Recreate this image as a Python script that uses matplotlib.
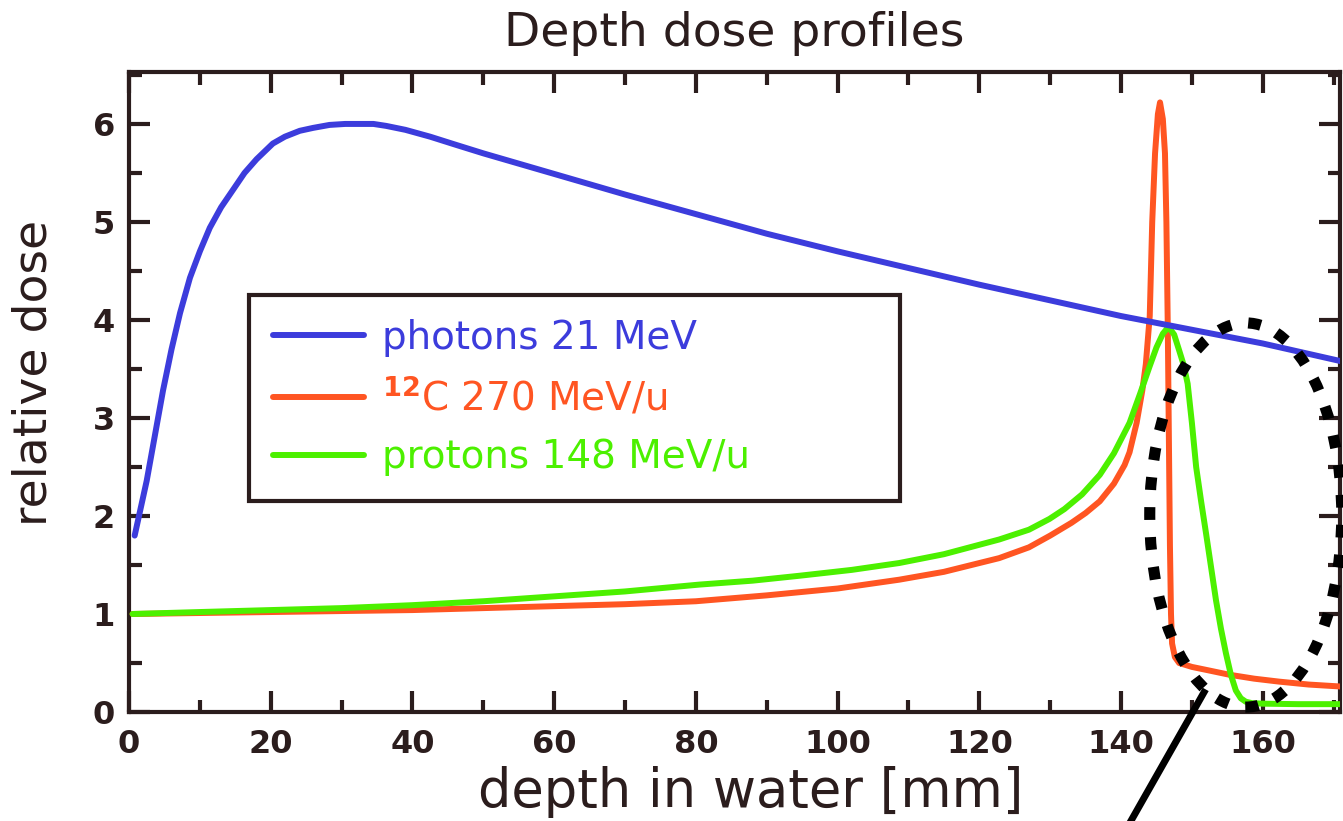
import matplotlib
matplotlib.use("Agg")
import matplotlib.pyplot as plt
from matplotlib.patches import Ellipse
from matplotlib.ticker import MultipleLocator

# ---------------- data ----------------
photon_x = [0.8, 2.5, 3.7, 4.8, 6.0, 7.2, 8.6, 10.0, 11.4, 13.0, 14.7, 16.3, 18.0,
            20.3, 22.0, 24.1, 26.0, 28.3, 30.5, 32.6, 34.5, 36.3, 39.0, 42.5, 46.0,
            50.0, 60.0, 70.0, 80.0, 90.0, 100.0, 110.0, 120.0, 130.0, 140.0, 150.0,
            160.0, 171.0]
photon_y = [1.80, 2.36, 2.84, 3.28, 3.70, 4.07, 4.43, 4.70, 4.94, 5.15, 5.33, 5.50, 5.64,
            5.80, 5.87, 5.93, 5.96, 5.99, 6.00, 6.00, 6.00, 5.98, 5.94, 5.87, 5.79,
            5.70, 5.49, 5.28, 5.08, 4.88, 4.70, 4.53, 4.36, 4.20, 4.04, 3.90,
            3.76, 3.58]

carbon_x = [0.5, 10, 20, 30, 40, 50, 60, 70, 80, 90, 100, 108.7, 115, 122.8, 127,
            130, 133, 135, 137, 139, 140.5, 141.2, 142.2, 143.0, 143.5, 144.05, 144.4,
            144.8, 145.2, 145.5, 145.9, 146.2, 146.4, 146.6, 146.75, 146.9, 147.05,
            147.2, 147.6, 148.2, 150, 152, 155.3, 158.8, 162.3, 166.5, 171]
carbon_y = [1.00, 1.01, 1.02, 1.03, 1.04, 1.06, 1.08, 1.10, 1.13, 1.19, 1.26, 1.35, 1.43,
            1.57, 1.68, 1.80, 1.93, 2.03, 2.15, 2.33, 2.52, 2.65, 2.95, 3.28, 3.55, 4.04,
            5.00, 5.70, 6.10, 6.22, 6.05, 5.70, 5.00, 3.90, 2.80, 1.70, 1.00, 0.70, 0.56,
            0.50, 0.46, 0.43, 0.38, 0.34, 0.31, 0.28, 0.26]

proton_x = [0.5, 10, 20, 30, 40, 50, 60, 70, 80.5, 88, 94.6, 102, 108.7, 115, 122.8,
            127, 129.9, 132, 134.5, 137, 139, 141.2, 142.7, 144, 145, 145.9, 146.7,
            147.5, 148.2, 148.8, 149.4, 150, 150.6, 151.3, 152, 152.7, 153.4, 154.1,
            154.8, 155.5, 156.2, 156.9, 157.6, 158.5, 160, 165, 171]
proton_y = [1.00, 1.02, 1.04, 1.06, 1.09, 1.13, 1.18, 1.23, 1.30, 1.34, 1.39, 1.45, 1.52,
            1.61, 1.76, 1.86, 1.97, 2.07, 2.22, 2.42, 2.64, 2.95, 3.25, 3.52, 3.72, 3.86,
            3.93, 3.85, 3.69, 3.55, 3.35, 2.95, 2.50, 2.15, 1.82, 1.48, 1.14, 0.85, 0.60,
            0.38, 0.22, 0.14, 0.105, 0.09, 0.085, 0.08, 0.08]

series_labels = ["photons 21 MeV", r"$^{\mathbf{12}}$C 270 MeV/u", "protons 148 MeV/u"]

x_ticks = [0, 20, 40, 60, 80, 100, 120, 140, 160]
x_tick_labels = ["0", "20", "40", "60", "80", "100", "120", "140", "160"]
y_ticks = [0, 1, 2, 3, 4, 5, 6]
y_tick_labels = ["0", "1", "2", "3", "4", "5", "6"]

title_text = "Depth dose profiles"
x_label = "depth in water [mm]"
y_label = "relative dose"

# annotation (dotted ellipse and pointer line) in data units
ellipse_center = (157.6, 2.01)
ellipse_size = (27.1, 3.92)
pointer_x = [151.7, 140.7]
pointer_y = [0.20, -1.20]

# ---------------- style ----------------
BLUE = "#3c3cdc"
ORANGE = "#ff5522"
GREEN = "#4cf000"
DARK = "#2b1d1d"

plt.rcParams['font.family'] = ['DejaVu Sans']

fig = plt.figure(figsize=(13.43, 8.21), dpi=100)
fig.patch.set_facecolor("white")
ax = fig.add_axes([129 / 1343, 109 / 821, 1211 / 1343, 640 / 821])

lw = 4.3
ax.plot(carbon_x, carbon_y, color=ORANGE, lw=lw, solid_joinstyle='round',
        solid_capstyle='round', label=series_labels[1], zorder=3)
ax.plot(proton_x, proton_y, color=GREEN, lw=lw, solid_joinstyle='round',
        solid_capstyle='round', label=series_labels[2], zorder=4)
ax.plot(photon_x, photon_y, color=BLUE, lw=lw, solid_joinstyle='round',
        solid_capstyle='round', label=series_labels[0], zorder=5)

ax.set_xlim(0, 170.9)
ax.set_ylim(0, 6.53)

ax.set_xticks(x_ticks, labels=x_tick_labels, fontsize=23, fontweight='bold', color=DARK)
ax.set_yticks(y_ticks, labels=y_tick_labels, fontsize=23, fontweight='bold', color=DARK)
ax.xaxis.set_minor_locator(MultipleLocator(10))
ax.yaxis.set_minor_locator(MultipleLocator(0.5))
ax.tick_params(which='both', direction='in', top=True, right=True, width=3, color=DARK)
ax.tick_params(which='major', length=15)
ax.tick_params(which='minor', length=9)
ax.tick_params(axis='x', pad=12)
ax.tick_params(axis='y', pad=10)

for sp in ax.spines.values():
    sp.set_linewidth(3)
    sp.set_color(DARK)

ax.set_title(title_text, fontsize=34, color=DARK, pad=19)

ax.set_xlabel(x_label, fontsize=38, color=DARK)
ax.xaxis.set_label_coords(0.513, -0.148)
ax.xaxis.label.set_verticalalignment('baseline')

ax.set_ylabel(y_label, fontsize=34, color=DARK)
ax.yaxis.set_label_coords(-0.0784, 0.530)
ax.yaxis.label.set_verticalalignment('center')

# legend
handles, labels = ax.get_legend_handles_labels()
order = [2, 0, 1]
leg = ax.legend([handles[i] for i in order], [labels[i] for i in order],
                loc='upper left', bbox_to_anchor=(0.099, 0.652, 0.538, 0.0),
                mode='expand', borderaxespad=0, fontsize=28, labelcolor='linecolor',
                frameon=True, fancybox=False, framealpha=1, edgecolor=DARK,
                handlelength=2.35, handletextpad=0.45, labelspacing=0.5, borderpad=0.62)
leg.get_frame().set_linewidth(3)
leg.set_zorder(2)

# dotted ellipse and pointer line
ell = Ellipse(ellipse_center, ellipse_size[0], ellipse_size[1], fill=False,
              edgecolor='black', linewidth=8, linestyle=(0, (1.15, 1.55)),
              clip_on=False, zorder=6)
ell.set_capstyle('butt')
ax.add_patch(ell)
ax.plot(pointer_x, pointer_y, color='black', lw=5, clip_on=False, zorder=6)

fig.savefig("out.png", dpi=100, facecolor="white")
